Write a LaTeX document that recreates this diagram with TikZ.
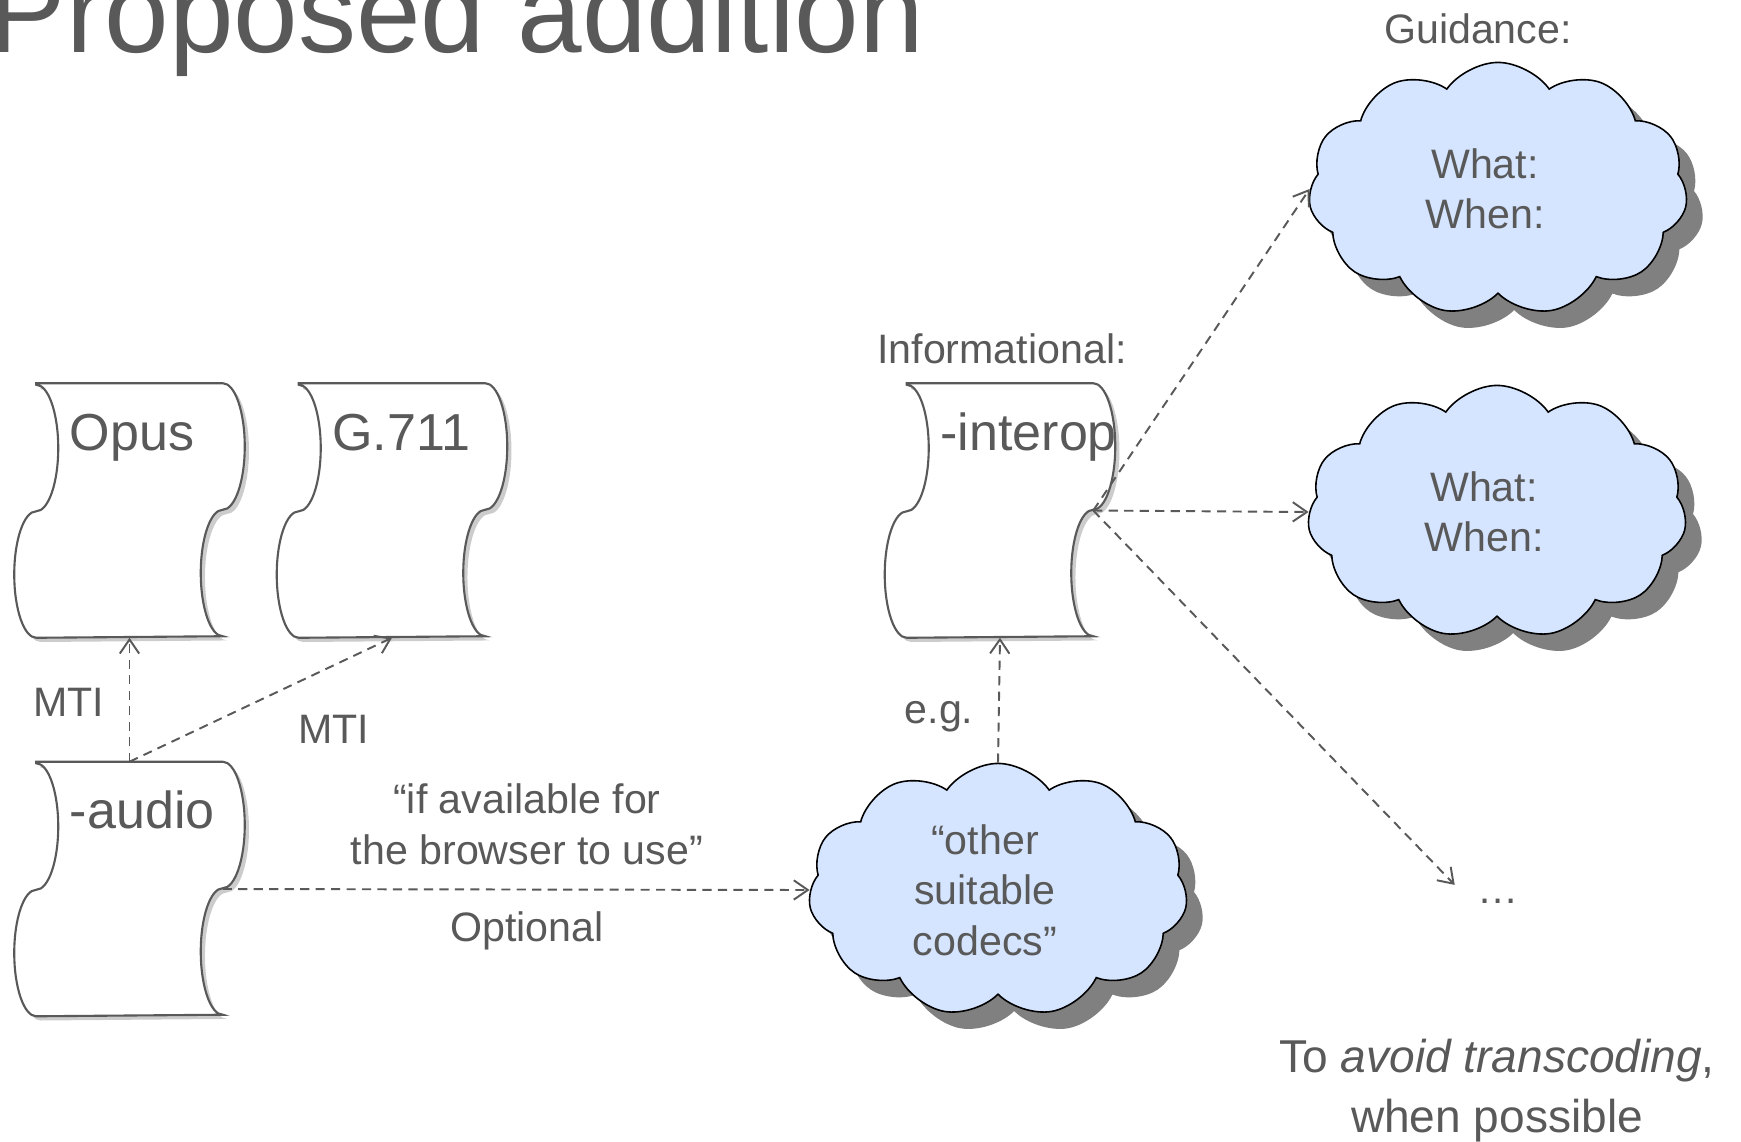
\documentclass[tikz,border=0pt]{standalone}
\usepackage{fontspec}
\setmainfont{Liberation Sans}
\usepackage{tikz}
\usepackage{xcolor}
\usetikzlibrary{
    arrows.meta,
    shapes.symbols,
    shadows,
    calc
}
\definecolor{txtgray}{HTML}{595959}
\definecolor{cloudblue}{HTML}{D5E5FF}

\newcommand{\scrollpath}[1]{%
    \draw[scrollline] (#1.north west) -- (#1.north east)
        arc[start angle=90, end angle=-90, x radius=22, y radius=63.25]
        arc[start angle=90, end angle=270, x radius=22, y radius=63.25]
        -- (#1.south west)
        arc[start angle=-90, end angle=-270, x radius=22, y radius=63.25]
        arc[start angle=-90, end angle=90, x radius=22, y radius=63.25]
        -- cycle;}
\newcommand{\pad}{\kern0.26cm\relax}

\begin{document}
\begin{tikzpicture}[x=0.01cm, y=0.01cm,
    >={Straight Barb[length=4pt,width=5.5pt]},
    every node/.style={text=txtgray},
    scrollbox/.style={minimum width=1.85cm, minimum height=2.53cm, inner sep=0pt},
    scrollline/.style={draw=txtgray, line width=0.6pt, fill=white,
        drop shadow={shadow xshift=1.2pt, shadow yshift=-1.2pt, opacity=0.2, fill=black}},
    codec/.style={anchor=base west, inner sep=0pt, font=\fontsize{14.8}{17}\selectfont},
    smalltext/.style={anchor=base, inner sep=0pt, font=\fontsize{11.7}{14.4}\selectfont},
    cloudbox/.style={cloud, cloud puffs=11, cloud puff arc=110, aspect=1.5, cloud ignores aspect,
        draw=black, line width=0.45pt, fill=cloudblue, minimum width=3.79cm, minimum height=2.53cm,
        align=center, font=\fontsize{11.7}{14.3}\selectfont,
        drop shadow={shadow xshift=4.6pt, shadow yshift=-4.8pt, opacity=1, fill=black!50}},
    dashlink/.style={draw=txtgray, line width=0.55pt, dash pattern=on 2.6pt off 1.8pt}
]
    \useasboundingbox[fill=white] (0,0) rectangle (1741,-1142);

    \node[anchor=base west, inner sep=0pt, font=\fontsize{33}{40}\selectfont] (title) at (-12,-52) {Proposed addition};

    \node[scrollbox] (opus) at (129.5,-510.5) {};
    \node[scrollbox] (g711) at (392,-510.5) {};
    \node[scrollbox] (audio) at (129.5,-889) {};
    \node[scrollbox] (interop) at (1000,-510.5) {};
    \scrollpath{opus}
    \scrollpath{g711}
    \scrollpath{audio}
    \scrollpath{interop}

    \node[codec] (opuslabel) at ($(opus.north west)+(33,-67)$) {Opus};
    \node[codec] (g711label) at ($(g711.north west)+(33,-67)$) {G.711};
    \node[codec] (audiolabel) at ($(audio.north west)+(33,-67)$) {-audio};
    \node[codec] (interoplabel) at ($(interop.north west)+(33,-67)$) {-interop};

    \node[cloudbox] (guide1) at (1498,-189) {What:\pad\\When:\pad};
    \node[cloudbox] (guide2) at (1497,-512) {What:\pad\\When:\pad};
    \node[cloudbox] (others) at (998,-890) {“other\pad\\suitable\pad\\codecs”\pad};

    \node[smalltext] (guidance) at (1478,-43) {Guidance:};
    \node[smalltext] (informational) at (1002,-363) {Informational:};
    \node[smalltext] (mti1) at (69,-716) {MTI};
    \node[smalltext] (mti2) at (334,-743) {MTI};
    \node[smalltext] (eg) at (939,-723) {e.g.};
    \node[smalltext, align=center] (ifavail) at (527,-864) {“if available for\\the browser to use”};
    \node[smalltext] (optional) at (527,-941) {Optional};
    \node[smalltext, inner xsep=0.22cm, inner ysep=0.13cm] (more) at (1498,-903) {…};
    \node[anchor=base, inner sep=0pt, align=center, font=\fontsize{13.1}{16.8}\selectfont] (avoid) at (1497,-1132) {To \textit{avoid transcoding},\\when possible};

    \draw[dashlink]
        (audio.north) edge[->] (opus.south)
        (audio.north) edge[->] (g711.south)
        (audio.east) edge[->] (others.west)
        (others.north) edge[->] (interop.south)
        (interop.east) edge[->] (guide1.west)
        (interop.east) edge[->] (guide2.west)
        (interop.east) edge[->] (more.north west);
\end{tikzpicture}
\end{document}
